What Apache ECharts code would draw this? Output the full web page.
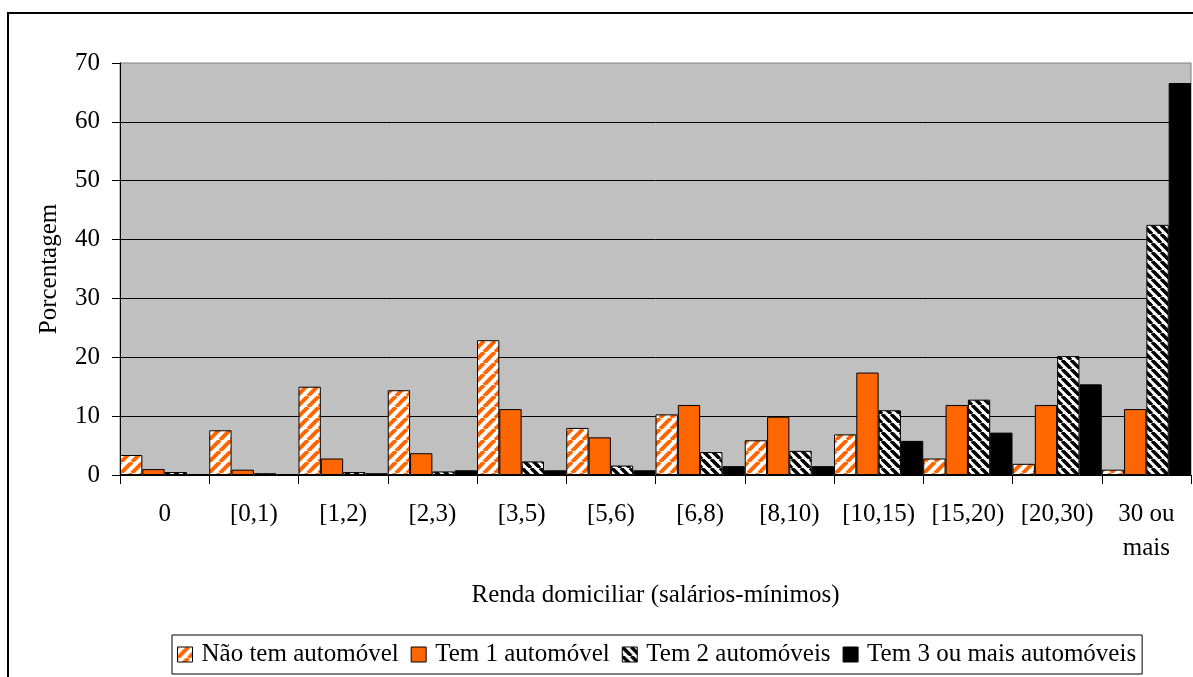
<!DOCTYPE html>
<html>
<head>
<meta charset="utf-8">
<script src="https://cdn.jsdelivr.net/npm/echarts@6/dist/echarts.min.js"></script>
<style>
html,body{margin:0;padding:0;background:#fff;}
#chart{width:1193px;height:677px;}
</style>
</head>
<body>
<div id="chart"></div>
<script>
const categories = ['0', '[0,1)', '[1,2)', '[2,3)', '[3,5)', '[5,6)', '[6,8)', '[8,10)', '[10,15)', '[15,20)', '[20,30)', '30 ou\nmais'];
const seriesNames = ['Não tem automóvel', 'Tem 1 automóvel', 'Tem 2 automóveis', 'Tem 3 ou mais automóveis'];
const semAuto = [3.4, 7.6, 15.0, 14.4, 22.9, 8.0, 10.3, 5.9, 6.9, 2.8, 1.9, 0.9];
const umAuto = [1.0, 0.9, 2.8, 3.7, 11.2, 6.4, 11.9, 9.9, 17.4, 11.9, 11.9, 11.2];
const doisAuto = [0.5, 0.3, 0.5, 0.6, 2.3, 1.6, 3.9, 4.1, 11.0, 12.8, 20.2, 42.5];
const tresAuto = [0.1, 0.1, 0.3, 0.8, 0.8, 0.8, 1.5, 1.5, 5.8, 7.2, 15.4, 66.6];
const yTicks = [0, 10, 20, 30, 40, 50, 60, 70];

function stripes(size, color, dir, width) {
  const c = document.createElement('canvas');
  c.width = size; c.height = size;
  const ctx = c.getContext('2d');
  ctx.fillStyle = '#ffffff';
  ctx.fillRect(0, 0, size, size);
  ctx.strokeStyle = color;
  ctx.lineWidth = width;
  for (let k = -1; k <= 1; k++) {
    ctx.beginPath();
    if (dir === '/') {
      ctx.moveTo(k * size, size);
      ctx.lineTo(k * size + size, 0);
    } else {
      ctx.moveTo(k * size, 0);
      ctx.lineTo(k * size + size, size);
    }
    ctx.stroke();
  }
  return { image: c, repeat: 'repeat' };
}

const fontFam = '"Liberation Serif", "Times New Roman", serif';
const chart = echarts.init(document.getElementById('chart'), null, { renderer: 'canvas' });

const colors = [
  stripes(11, '#ff6600', '/', 4),
  '#ff6600',
  stripes(9, '#000000', '\\', 3.5),
  '#000000'
];
const dataSets = [semAuto, umAuto, doisAuto, tresAuto];

chart.setOption({
  animation: false,
  backgroundColor: '#ffffff',
  textStyle: { fontFamily: fontFam },
  graphic: [{
    type: 'rect',
    shape: { x: 8, y: 13, width: 1210, height: 700 },
    style: { fill: 'none', stroke: '#000', lineWidth: 2 },
    silent: true, z: -10
  }],
  grid: {
    left: 120, top: 63, right: 2, bottom: 202,
    show: true, backgroundColor: '#c0c0c0', borderColor: '#808080', borderWidth: 1
  },
  legend: {
    left: 172, top: 635,
    padding: [6, 6, 6, 5],
    icon: 'rect',
    itemWidth: 15, itemHeight: 15, itemGap: 12,
    borderColor: '#000', borderWidth: 1, backgroundColor: '#fff',
    itemStyle: { borderColor: '#000', borderWidth: 1 },
    textStyle: { fontFamily: fontFam, fontSize: 25, color: '#000', lineHeight: 27, padding: [0, 0, 0, 4] },
    data: seriesNames
  },
  xAxis: {
    type: 'category',
    data: categories,
    name: 'Renda domiciliar (salários-mínimos)',
    nameLocation: 'middle',
    nameGap: 108,
    nameTextStyle: { fontFamily: fontFam, fontSize: 25, color: '#000' },
    axisLine: { lineStyle: { color: '#000', width: 1 } },
    axisTick: { show: true, interval: 0, length: 9, lineStyle: { color: '#000' } },
    axisLabel: { interval: 0, margin: 22, fontFamily: fontFam, fontSize: 25, color: '#000', lineHeight: 34 },
    splitLine: { show: false }
  },
  yAxis: {
    type: 'value',
    min: 0, max: 70, interval: 10,
    name: 'Porcentagem',
    nameLocation: 'middle',
    nameGap: 58,
    nameTextStyle: { fontFamily: fontFam, fontSize: 25, color: '#000' },
    axisLine: { show: true, lineStyle: { color: '#000', width: 1 } },
    axisTick: { show: true, length: 8, lineStyle: { color: '#000' } },
    axisLabel: {
      margin: 20, fontFamily: fontFam, fontSize: 25, color: '#000',
      formatter: v => (yTicks.indexOf(v) >= 0 ? String(v) : '')
    },
    splitLine: { show: true, showMaxLine: false, lineStyle: { color: '#000', width: 1 } }
  },
  series: seriesNames.map((n, i) => ({
    name: n,
    type: 'bar',
    data: dataSets[i],
    barGap: '0%',
    barCategoryGap: '0%',
    itemStyle: { color: colors[i], borderColor: '#000', borderWidth: 1 }
  }))
});
</script>
</body>
</html>
